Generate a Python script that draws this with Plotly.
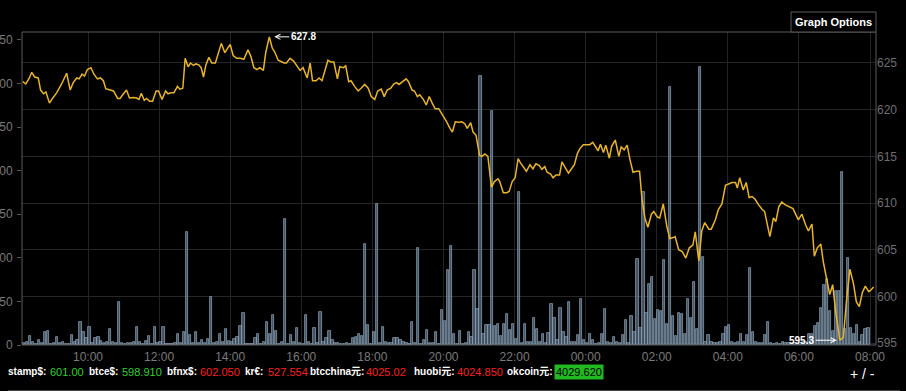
import plotly.graph_objects as go
import pandas as pd

DAY1 = "2014-06-19"
DAY2 = "2014-06-20"

# ---- price line (right axis) ----
price_times = [
    "08:10", "08:15", "08:21", "08:25", "08:30", "08:36", "08:40", "08:45", "08:49", "08:55",
    "09:00", "09:07", "09:15", "09:24", "09:30", "09:35", "09:41", "09:45", "09:50", "09:54",
    "09:59", "10:05", "10:10", "10:16", "10:21", "10:26", "10:30", "10:36", "10:43", "10:50",
    "10:54", "11:00", "11:05", "11:10", "11:17", "11:22", "11:26", "11:30", "11:35", "11:39",
    "11:44", "11:49", "11:55", "11:59", "12:05", "12:11", "12:15", "12:20", "12:25", "12:31",
    "12:35", "12:40", "12:44", "12:49", "12:53", "12:58", "13:02", "13:07", "13:11", "13:15",
    "13:19", "13:24", "13:29", "13:35", "13:39", "13:45", "13:51", "13:55", "14:00", "14:05",
    "14:11", "14:17", "14:23", "14:30", "14:35", "14:40", "14:45", "14:50", "14:56", "15:00",
    "15:06", "15:11", "15:15", "15:21", "15:25", "15:31", "15:35", "15:41", "15:47", "15:52",
    "15:58", "16:03", "16:07", "16:10", "16:15", "16:19", "16:25", "16:30", "16:35", "16:41",
    "16:45", "16:50", "16:55", "17:01", "17:05", "17:11", "17:15", "17:20", "17:24", "17:30",
    "17:36", "17:41", "17:47", "17:53", "17:58", "18:04", "18:09", "18:15", "18:20", "18:25",
    "18:31", "18:36", "18:41", "18:45", "18:51", "18:57", "19:01", "19:07", "19:11", "19:16",
    "19:20", "19:26", "19:31", "19:36", "19:41", "19:46", "19:52", "19:57", "20:05", "20:11",
    "20:15", "20:20", "20:26", "20:31", "20:36", "20:40", "20:46", "20:50", "20:55", "21:01",
    "21:05", "21:10", "21:15", "21:21", "21:26", "21:32", "21:35", "21:41", "21:47", "21:51",
    "21:56", "22:01", "22:06", "22:10", "22:16", "22:20", "22:26", "22:31", "22:36", "22:42",
    "22:46", "22:51", "22:55", "23:01", "23:05", "23:10", "23:16", "23:20", "23:26", "23:31",
    "23:37", "23:41", "23:46", "23:50", "23:56", "00:02", "00:07", "00:12", "00:16", "00:21",
    "00:25", "00:30", "00:34", "00:40", "00:44", "00:50", "00:56", "01:00", "01:05", "01:10",
    "01:15", "01:20", "01:26", "01:31", "01:35", "01:40", "01:45", "01:51", "01:55", "02:01",
    "02:05", "02:11", "02:17", "02:22", "02:28", "02:31", "02:37", "02:43", "02:49", "02:55",
    "03:01", "03:05", "03:11", "03:16", "03:21", "03:28", "03:32", "03:39", "03:44", "03:50",
    "03:56", "04:01", "04:07", "04:13", "04:16", "04:20", "04:26", "04:31", "04:36", "04:41",
    "04:46", "04:52", "04:58", "05:02", "05:07", "05:11", "05:17", "05:21", "05:26", "05:31",
    "05:37", "05:43", "05:50", "05:59", "06:05", "06:11", "06:16", "06:22", "06:26", "06:31",
    "06:37", "06:41", "06:47", "06:52", "06:57", "07:02", "07:09", "07:15", "07:20", "07:26",
    "07:32", "07:37", "07:42", "07:47", "07:52", "07:58", "08:02", "08:06",
]
price_values = [
    623.0, 622.75, 623.4, 624.0, 623.5, 623.4, 622.1, 621.7, 621.9, 620.7,
    621.2, 621.8, 622.7, 623.9, 622.1, 622.9, 623.4, 623.3, 623.8, 623.6,
    624.3, 624.5, 623.8, 623.3, 623.4, 623.1, 622.25, 622.1, 622.0, 621.2,
    621.2, 621.7, 622.1, 621.25, 621.3, 621.25, 621.1, 621.75, 621.0, 621.2,
    620.9, 620.9, 622.0, 622.0, 621.1, 622.0, 621.7, 621.8, 621.8, 622.5,
    622.2, 622.3, 625.5, 624.6, 625.0, 624.75, 624.9, 624.8, 624.5, 623.5,
    624.8, 625.6, 625.0, 625.0, 625.8, 627.1, 626.1, 626.5, 627.0, 625.8,
    625.5, 625.5, 625.4, 626.4, 625.7, 624.5, 624.3, 624.5, 624.2, 626.1,
    627.8, 626.6, 626.2, 625.3, 625.2, 625.0, 625.0, 625.5, 625.2, 624.8,
    624.2, 624.5, 623.9, 623.4, 625.0, 623.1, 623.1, 623.4, 623.1, 624.5,
    625.3, 625.1, 625.1, 623.3, 624.6, 624.5, 624.7, 623.0, 623.1, 622.5,
    622.0, 622.3, 622.7, 622.3, 621.4, 621.1, 622.0, 622.2, 621.4, 622.1,
    622.3, 622.75, 622.9, 622.7, 623.0, 623.3, 623.0, 622.1, 622.0, 621.4,
    621.6, 621.1, 620.5, 621.4, 620.7, 620.1, 620.1, 619.6, 618.75, 618.0,
    617.6, 618.7, 618.65, 618.7, 618.5, 618.0, 618.6, 617.6, 617.25, 615.1,
    615.0, 615.25, 615.0, 611.7, 612.3, 612.6, 612.3, 611.1, 611.1, 611.25,
    612.3, 612.7, 614.75, 614.3, 613.75, 613.4, 614.1, 613.65, 614.2, 614.0,
    613.6, 613.9, 613.3, 613.1, 612.7, 613.0, 613.0, 614.4, 613.75, 613.2,
    613.75, 614.1, 615.3, 615.8, 616.25, 616.25, 616.25, 616.5, 616.1, 615.6,
    616.3, 615.4, 616.2, 614.8, 616.1, 616.75, 615.0, 616.0, 615.7, 616.2,
    614.6, 613.3, 613.4, 613.4, 610.5, 608.4, 607.4, 608.8, 609.1, 608.5,
    608.4, 609.9, 607.5, 606.2, 606.3, 606.4, 605.0, 604.8, 604.1, 605.2,
    605.5, 606.9, 603.8, 607.0, 607.9, 607.2, 607.2, 608.2, 609.3, 609.9,
    611.9, 612.0, 612.2, 612.2, 611.6, 612.7, 611.4, 612.2, 610.6, 610.7,
    610.4, 609.8, 609.3, 609.1, 607.75, 606.4, 608.4, 608.0, 609.6, 610.1,
    609.8, 609.6, 609.4, 608.2, 608.8, 607.7, 607.0, 607.75, 604.3, 605.2,
    605.6, 603.75, 601.6, 600.2, 601.25, 598.4, 595.3, 595.6, 599.3, 602.9,
    601.4, 599.4, 598.9, 600.4, 601.1, 600.5, 600.7, 601.0,
]

# ---- volume bars (left axis), 5-minute bins from 08:10 ----
volume_start = DAY1 + " 08:12:30"
volume_values = [
    2, 3, 10, 3, 1, 6, 2, 15, 16, 1,
    2, 9, 2, 3, 1, 1, 11, 4, 6, 26,
    15, 8, 21, 2, 8, 9, 5, 2, 3, 18,
    3, 2, 49, 2, 1, 2, 2, 3, 21, 4,
    1, 5, 10, 1, 21, 2, 3, 21, 1, 1,
    1, 2, 13, 2, 15, 130, 11, 2, 15, 2,
    6, 2, 7, 55, 2, 3, 13, 4, 18, 5,
    3, 7, 9, 22, 37, 1, 1, 1, 8, 13,
    1, 4, 26, 13, 34, 16, 1, 4, 145, 1,
    11, 4, 20, 2, 1, 34, 4, 1, 19, 2,
    38, 4, 8, 16, 6, 2, 2, 1, 1, 2,
    1, 8, 9, 13, 10, 116, 23, 1, 15, 162,
    2, 21, 4, 2, 2, 8, 8, 6, 4, 2,
    1, 26, 2, 111, 1, 6, 17, 2, 2, 15,
    1, 40, 28, 86, 114, 13, 1, 16, 1, 2,
    15, 9, 86, 41, 308, 13, 23, 23, 268, 22,
    24, 10, 24, 36, 17, 24, 7, 176, 2, 24,
    4, 4, 31, 18, 4, 13, 2, 14, 47, 31,
    6, 43, 15, 9, 49, 3, 3, 11, 53, 6,
    2, 13, 6, 1, 2, 13, 41, 3, 2, 9,
    4, 2, 11, 29, 2, 33, 15, 99, 20, 176,
    37, 70, 78, 30, 40, 39, 97, 24, 296, 33,
    10, 37, 36, 13, 53, 31, 72, 18, 319, 101,
    3, 11, 4, 2, 2, 3, 13, 21, 23, 3,
    2, 4, 13, 4, 12, 88, 15, 3, 2, 2,
    11, 26, 2, 1, 2, 1, 3, 2, 2, 1,
    2, 1, 2, 3, 4, 13, 13, 22, 25, 43,
    69, 76, 39, 16, 62, 62, 199, 18, 100, 20,
    13, 23, 4, 11, 18, 20,
]

# ---- ticker row ----
ticker_labels = ["stamp$:", "btce$:", "bfnx$:", "kr€:", "btcchina元:", "huobi元:", "okcoin元:"]
ticker_values = ["601.00", "598.910", "602.050", "527.554", "4025.02", "4024.850", "4029.620"]
ticker_state = ["up", "up", "down", "down", "down", "down", "hl"]

vol_ticks = [0, 50, 100, 150, 200, 250, 300, 350]
price_ticks = [595, 600, 605, 610, 615, 620, 625]


def to_ts(hm):
    h, m = map(int, hm.split(":"))
    day = DAY1 if (h > 8 or (h == 8 and m >= 8)) else DAY2
    return f"{day} {hm}"


price_x = [to_ts(t) for t in price_times]
volume_x = pd.date_range(volume_start, periods=len(volume_values), freq="5min")

FONT = "Liberation Sans, Arial, Noto Sans CJK SC, sans-serif"

# plot-area pixel geometry
L, R, T, B = 22, 876, 32, 345
W, H = R - L, B - T


def pxx(x):
    return (x - L) / W


def pxy(y):
    return (B - y) / H


fig = go.Figure()
fig.add_trace(go.Bar(
    x=volume_x, y=volume_values, yaxis="y",
    width=230000,
    marker=dict(color="rgba(88,108,128,0.75)",
                line=dict(color="rgba(150,172,192,0.85)", width=0.8)),
    hoverinfo="skip",
))
fig.add_trace(go.Scatter(
    x=price_x, y=price_values, yaxis="y2", mode="lines",
    line=dict(color="#e8b42a", width=1.5),
    hoverinfo="skip",
))

# peak / trough annotations
imax = price_values.index(max(price_values))
imin = price_values.index(min(price_values))
ann = [
    dict(x=price_x[imax], y=price_values[imax], xref="x", yref="y2",
         text=f"<b>{price_values[imax]:.1f}</b>", showarrow=True, ax=34, ay=0,
         arrowhead=5, arrowsize=1, arrowwidth=1, arrowcolor="white", standoff=5,
         font=dict(color="white", size=10, family=FONT)),
    dict(x=price_x[imin], y=price_values[imin], xref="x", yref="y2",
         text=f"<b>{price_values[imin]:.1f}</b>", showarrow=True, ax=-38, ay=0,
         arrowhead=5, arrowsize=1, arrowwidth=1, arrowcolor="white", standoff=3,
         font=dict(color="white", size=10, family=FONT)),
]

label_x = [7, 88, 166, 244, 309, 413, 506]
value_x = [49, 121, 199, 267, 365, 456, 554]
state_color = {"up": "#2fd02f", "down": "#ff1f1f", "hl": "#000000"}
for lab, val, st, lx, vx in zip(ticker_labels, ticker_values, ticker_state, label_x, value_x):
    ann.append(dict(x=pxx(lx), y=pxy(372), xref="paper", yref="paper", xanchor="left",
                    yanchor="middle", text=f"<b>{lab}</b>", showarrow=False,
                    font=dict(color="white", size=10, family=FONT), borderpad=0))
    a = dict(x=pxx(vx), y=pxy(372), xref="paper", yref="paper", xanchor="left",
             yanchor="middle", text=val, showarrow=False,
             font=dict(color=state_color[st], size=11, family=FONT), borderpad=0)
    if st == "hl":
        a["bgcolor"] = "#22b822"
        a["borderpad"] = 1
    ann.append(a)

ann.append(dict(x=pxx(848), y=pxy(374), xref="paper", yref="paper", xanchor="left",
                yanchor="middle", text="+ / -", showarrow=False,
                font=dict(color="white", size=14, family=FONT)))
ann.append(dict(x=pxx(833.5), y=pxy(21.5), xref="paper", yref="paper", xanchor="center",
                yanchor="middle", text="<b>Graph Options</b>", showarrow=False,
                font=dict(color="white", size=11, family=FONT)))

shapes = [
    dict(type="rect", xref="paper", yref="paper", x0=0, x1=1, y0=0, y1=1,
         line=dict(color="#5a5a5a", width=1), fillcolor="rgba(0,0,0,0)", layer="above"),
    dict(type="rect", xref="paper", yref="paper", x0=pxx(791), x1=1, y0=1, y1=pxy(12),
         line=dict(color="#5a5a5a", width=1), fillcolor="black", layer="above"),
    dict(type="line", xref="paper", yref="paper", x0=pxx(8), x1=pxx(900),
         y0=pxy(390.5), y1=pxy(390.5), line=dict(color="#444", width=1)),
]

fig.update_layout(
    width=906, height=391,
    margin=dict(l=L, r=906 - R, t=T, b=391 - B, pad=0, autoexpand=False),
    paper_bgcolor="black", plot_bgcolor="black",
    showlegend=False, bargap=0,
    font=dict(family=FONT, color="#777", size=12),
    xaxis=dict(type="date", range=[DAY1 + " 08:08:36", DAY2 + " 08:10:06"],
               tickformat="%H:%M", dtick=7200000, tick0=DAY1 + " 00:00",
               showgrid=True, gridcolor="#232323", gridwidth=1, zeroline=False,
               showline=False, ticks="", automargin=False, ticklabelstandoff=3,
               tickfont=dict(color="#7a7a7a", size=12)),
    yaxis=dict(range=[0, 359], tickvals=vol_ticks, showgrid=False, zeroline=False,
               ticks="outside", ticklen=4, tickcolor="#555", showline=False,
               automargin=False, ticklabelstandoff=2,
               tickfont=dict(color="#7a7a7a", size=12)),
    yaxis2=dict(overlaying="y", side="right", range=[594.79, 628.32],
                tickvals=price_ticks, showgrid=True, gridcolor="#262626",
                zeroline=False, ticks="", showline=False, automargin=False,
                tickfont=dict(color="#6e6e6e", size=12)),
    annotations=ann, shapes=shapes,
)

fig.write_html(
    "out.html",
    config={"displayModeBar": False},
    post_script="document.body.style.margin='0';document.body.style.background='black';",
)
